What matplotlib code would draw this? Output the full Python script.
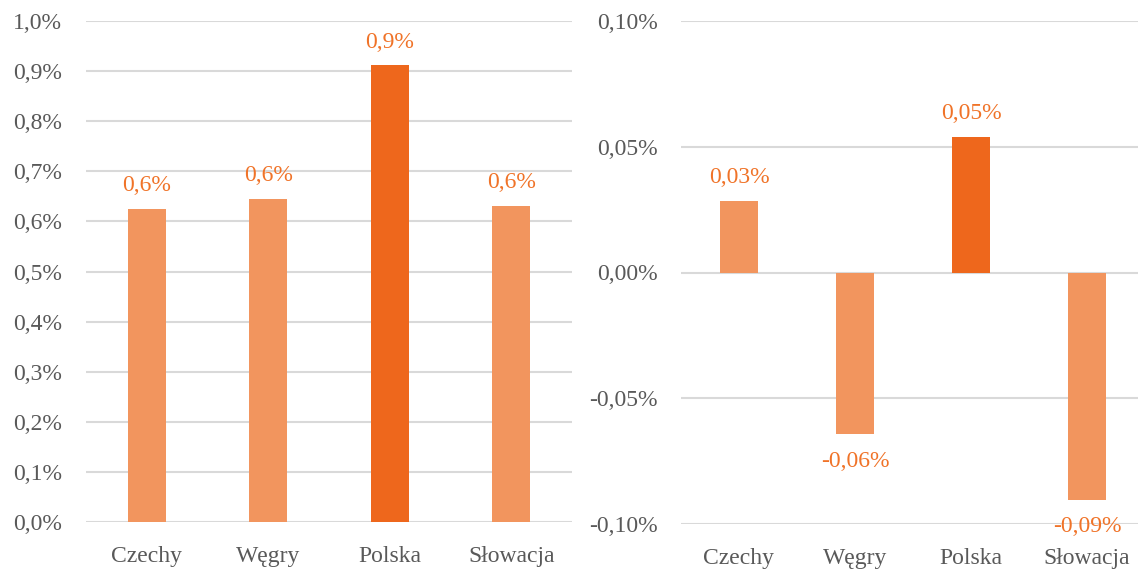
import matplotlib

matplotlib.use("Agg")
import matplotlib.pyplot as plt

W, H = 1138, 569

kraje = ["Czechy", "Węgry", "Polska", "Słowacja"]
poziom = [0.625, 0.645, 0.912, 0.631]        # lewy panel, %
zmiana = [0.0286, -0.0644, 0.054, -0.0903]   # prawy panel, %
etykiety_poziom = ["0,6%", "0,6%", "0,9%", "0,6%"]
etykiety_zmiana = ["0,03%", "-0,06%", "0,05%", "-0,09%"]
ticki_lewe = [i / 10 for i in range(11)]
ticki_prawe = [-0.10, -0.05, 0.0, 0.05, 0.10]

JASNY = "#F2955E"
CIEMNY = "#EE671C"
ETYKIETA = "#F07328"
SZARY = "#595959"
SIATKA = "#D9D9D9"

plt.rcParams["font.family"] = ["Liberation Serif", "DejaVu Serif"]

fig = plt.figure(figsize=(W / 100, H / 100), dpi=100)


def px_axes(x0, x1, ytop, ybot):
    return fig.add_axes([x0 / W, (H - ybot) / H, (x1 - x0) / W, (ybot - ytop) / H])


def styl(ax, ticks, fmt):
    for s in ax.spines.values():
        s.set_visible(False)
    ax.set_yticks(ticks)
    ax.set_yticklabels([fmt(t) for t in ticks])
    ax.tick_params(axis="both", length=0, labelsize=17, labelcolor=SZARY)
    ax.tick_params(axis="y", pad=17)
    ax.tick_params(axis="x", pad=17)
    ax.grid(axis="y", color=SIATKA, linewidth=1.5)
    ax.set_axisbelow(True)


def etykiety(ax, wartosci, teksty):
    for i, (v, t) in enumerate(zip(wartosci, teksty)):
        dy = 9 if v >= 0 else -12
        ax.annotate(t, (i, v), xytext=(0, dy), textcoords="offset points",
                    ha="center", va="bottom" if v >= 0 else "top",
                    color=ETYKIETA, fontsize=17, annotation_clip=False)


kolory = [JASNY, JASNY, CIEMNY, JASNY]

# lewy panel
ax1 = px_axes(86, 572, 21, 522)
x = range(len(kraje))
ax1.bar(x, poziom, width=0.31, color=kolory)
ax1.set_xlim(-0.5, 3.5)
ax1.set_ylim(0, 1.0)
ax1.set_xticks(list(x))
ax1.set_xticklabels(kraje)
styl(ax1, ticki_lewe, lambda t: f"{t:.1f}%".replace(".", ","))
etykiety(ax1, poziom, etykiety_poziom)

# prawy panel
ax2 = px_axes(681, 1145, 21, 524)
ax2.bar(x, zmiana, width=0.32, color=kolory)
ax2.set_xlim(-0.5, 3.5)
ax2.set_ylim(-0.10, 0.10)
ax2.set_xticks(list(x))
ax2.set_xticklabels(kraje)
styl(ax2, ticki_prawe, lambda t: f"{t:.2f}%".replace(".", ",").replace("-0,00", "0,00"))
etykiety(ax2, zmiana, etykiety_zmiana)

fig.savefig("out.png", dpi=100)
